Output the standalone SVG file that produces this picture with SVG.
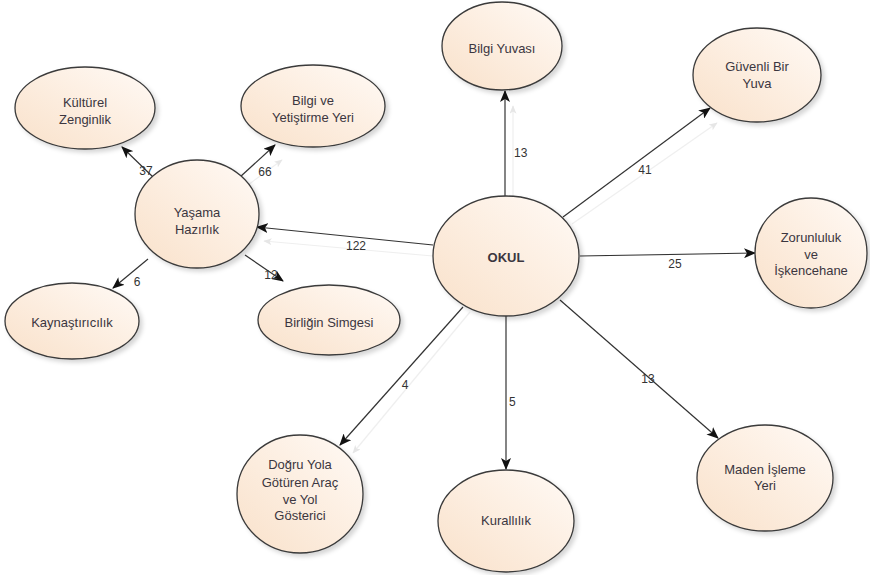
<svg xmlns="http://www.w3.org/2000/svg" width="870" height="575" viewBox="0 0 870 575">
<style>
.node ellipse{fill:url(#g);stroke:#3a3a3a;stroke-width:1.3;filter:url(#sh)}
.node text{font-family:"Liberation Sans",Arial,sans-serif;font-size:13px;fill:#3b3640;text-anchor:middle;dominant-baseline:central}
.edge{stroke:#333;stroke-width:1.2;fill:none;marker-end:url(#ah)}
.ghost{stroke:#efefef;stroke-width:1.2;fill:none;marker-end:url(#gh)}
.lbl{font-family:"Liberation Sans",Arial,sans-serif;font-size:12px;fill:#333;dominant-baseline:central}
</style>
<defs>
<linearGradient id="g" x1="0" y1="1" x2="1" y2="0">
<stop offset="0" stop-color="#f9e1ca"/>
<stop offset="0.6" stop-color="#fdf0e4"/>
<stop offset="1" stop-color="#fffaf6"/>
</linearGradient>
<filter id="sh" x="-20%" y="-20%" width="150%" height="150%">
<feDropShadow dx="3" dy="3" stdDeviation="2" flood-color="#000" flood-opacity="0.16"/>
</filter>
<marker id="ah" viewBox="0 0 12 10" refX="11" refY="5" markerWidth="12" markerHeight="10" markerUnits="userSpaceOnUse" orient="auto">
<path d="M0,0 L12,5 L0,10 L3,5 z" fill="#111"/>
</marker>
<marker id="gh" viewBox="0 0 12 10" refX="11" refY="5" markerWidth="9" markerHeight="7" markerUnits="userSpaceOnUse" orient="auto">
<path d="M0,0 L12,5 L0,10 L3,5 z" fill="#e6e6e6"/>
</marker>
</defs>
<g id="connectors">
<line class="ghost" x1="513" y1="198" x2="513" y2="106"/>
<line class="ghost" x1="572" y1="224" x2="717" y2="123"/>
<line class="ghost" x1="433" y1="256" x2="264" y2="241"/>
<line class="ghost" x1="248" y1="185" x2="282" y2="160"/>
<line class="ghost" x1="470" y1="312" x2="353" y2="453"/>
<line class="edge" x1="505" y1="197" x2="505" y2="91"/>
<line class="edge" x1="563" y1="217" x2="710" y2="108"/>
<line class="edge" x1="580" y1="256" x2="755" y2="253"/>
<line class="edge" x1="433" y1="245" x2="257" y2="227"/>
<line class="edge" x1="463" y1="307" x2="340" y2="445"/>
<line class="edge" x1="506" y1="315" x2="506" y2="469"/>
<line class="edge" x1="560" y1="300" x2="718" y2="438"/>
<line class="edge" x1="153" y1="177" x2="122" y2="147"/>
<line class="edge" x1="240" y1="177" x2="275" y2="145"/>
<line class="edge" x1="148" y1="259" x2="113" y2="288"/>
<line class="edge" x1="245" y1="255" x2="283" y2="281"/>
<text class="lbl" x="514" y="153" text-anchor="start">13</text>
<text class="lbl" x="645" y="170" text-anchor="middle">41</text>
<text class="lbl" x="675" y="264" text-anchor="middle">25</text>
<text class="lbl" x="356" y="246" text-anchor="middle">122</text>
<text class="lbl" x="405" y="385" text-anchor="middle">4</text>
<text class="lbl" x="509" y="402" text-anchor="start">5</text>
<text class="lbl" x="648" y="379" text-anchor="middle">13</text>
<text class="lbl" x="146" y="171" text-anchor="middle">37</text>
<text class="lbl" x="265" y="172" text-anchor="middle">66</text>
<text class="lbl" x="137" y="282" text-anchor="middle">6</text>
<text class="lbl" x="271" y="275" text-anchor="middle">12</text>
</g>
<g id="okul" class="node"><ellipse cx="506" cy="256" rx="73" ry="60"/><text x="506" y="257" style="font-weight:bold">OKUL</text></g>
<g id="bilgi-yuvasi" class="node"><ellipse cx="502" cy="46" rx="60" ry="44"/><text x="502" y="48">Bilgi Yuvası</text></g>
<g id="guvenli" class="node"><ellipse cx="757" cy="75" rx="64" ry="47"/><text x="757" y="66">Güvenli Bir</text><text x="757" y="83">Yuva</text></g>
<g id="zorunluluk" class="node"><ellipse cx="811" cy="253" rx="56" ry="55"/><text x="811" y="237">Zorunluluk</text><text x="811" y="254">ve</text><text x="811" y="270">İşkencehane</text></g>
<g id="maden" class="node"><ellipse cx="765" cy="478" rx="68" ry="53"/><text x="765" y="469">Maden İşleme</text><text x="765" y="485">Yeri</text></g>
<g id="kurallilik" class="node"><ellipse cx="506" cy="521" rx="68" ry="51"/><text x="506" y="520">Kurallılık</text></g>
<g id="dogru-yola" class="node"><ellipse cx="300" cy="494" rx="63" ry="59"/><text x="300" y="464">Doğru Yola</text><text x="300" y="482">Götüren Araç</text><text x="300" y="499">ve Yol</text><text x="300" y="515">Gösterici</text></g>
<g id="birligin" class="node"><ellipse cx="329" cy="320" rx="71" ry="35"/><text x="329" y="322">Birliğin Simgesi</text></g>
<g id="kaynastiricilik" class="node"><ellipse cx="72" cy="321" rx="67" ry="38"/><text x="72" y="322">Kaynaştırıcılık</text></g>
<g id="yasama" class="node"><ellipse cx="197" cy="214" rx="62" ry="54"/><text x="197" y="212">Yaşama</text><text x="197" y="229">Hazırlık</text></g>
<g id="kulturel" class="node"><ellipse cx="85" cy="108" rx="70" ry="41"/><text x="85" y="102">Kültürel</text><text x="85" y="119">Zenginlik</text></g>
<g id="bilgi-ve" class="node"><ellipse cx="313" cy="106" rx="72" ry="41"/><text x="313" y="100">Bilgi ve</text><text x="313" y="117">Yetiştirme Yeri</text></g>
</svg>
